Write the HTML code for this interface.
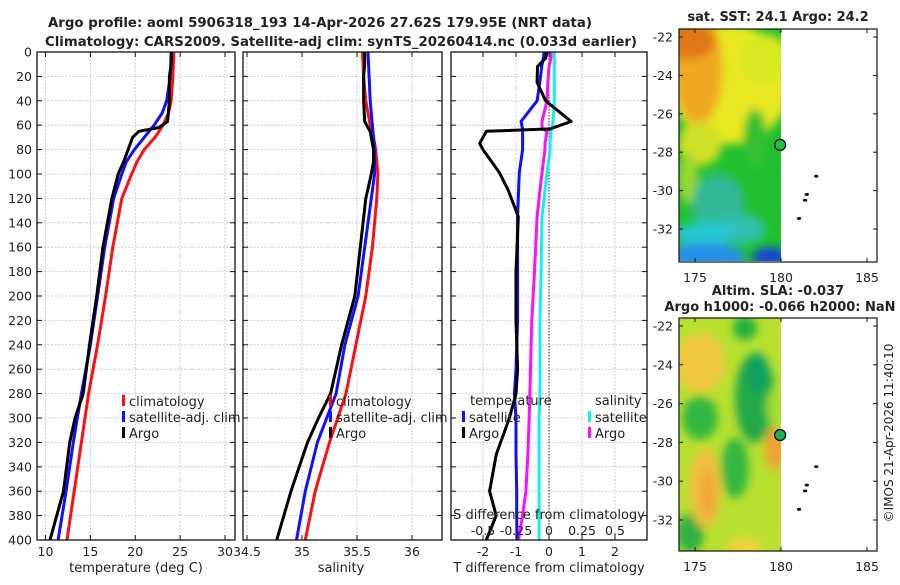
<!DOCTYPE html>
<html><head><meta charset="utf-8"><style>
html,body{margin:0;padding:0;background:#fff;}
svg text{font-family:"DejaVu Sans","Liberation Sans",sans-serif;fill:#222;}
</style></head><body>
<svg id="fig" width="900" height="580" viewBox="0 0 900 580" xmlns="http://www.w3.org/2000/svg">
<defs>
<filter id="blur6" x="-20%" y="-20%" width="140%" height="140%"><feGaussianBlur stdDeviation="4.5"/></filter>
<clipPath id="clipTop"><rect x="679" y="29" width="102" height="232"/></clipPath>
<clipPath id="clipBot"><rect x="679" y="318" width="102" height="233"/></clipPath>
</defs>
<text x="320" y="27" text-anchor="middle" font-size="13" font-weight="bold" textLength="544" lengthAdjust="spacingAndGlyphs">Argo profile: aoml 5906318_193 14-Apr-2026 27.62S 179.95E (NRT data)</text>
<text x="341" y="46" text-anchor="middle" font-size="13" font-weight="bold" textLength="592" lengthAdjust="spacingAndGlyphs">Climatology: CARS2009. Satellite-adj clim: synTS_20260414.nc (0.033d earlier)</text>
<g id="panels"></g>
<g id="maps"></g>
<text transform="translate(893,433) rotate(-90)" text-anchor="middle" font-size="12">©IMOS 21-Apr-2026 11:40:10</text>
</svg>
<script>
// ---- data (depth in m) ----
var depthTicks = [0,20,40,60,80,100,120,140,160,180,200,220,240,260,280,300,320,340,360,380,400];
var tempTicks = [10,15,20,25,30];
var salTicks = [34.5,35,35.5,36];
var tdiffTicks = [-2,-1,0,1,2];
var sdiffTicks = [-0.5,-0.25,0,0.25,0.5];
var sdiffLabels = ["-0.5","-0.25","0","0.25","0.5"];

var climDepth = [0,20,40,50,60,70,80,90,100,120,160,200,240,280,320,360,400];
var climTemp  = [24.3,24.2,24.0,23.7,23.1,22.2,21.0,20.2,19.6,18.5,17.5,16.7,15.8,14.8,14.0,13.2,12.4];
var satTemp   = [24.0,23.9,23.5,23.0,22.1,21.0,19.9,19.0,18.5,17.6,16.6,15.8,15.0,14.0,13.1,12.3,11.4];
var argoDepth = [0,10,20,40,57,62,65,70,80,90,100,120,160,200,240,280,300,320,360,400];
var argoTemp  = [24.0,24.0,23.8,23.8,23.6,22.6,20.4,19.7,19.2,18.7,18.1,17.4,16.4,15.7,14.9,14.2,13.3,12.7,12.0,10.5];

var climSal = [35.55,35.56,35.58,35.6,35.62,35.65,35.67,35.68,35.69,35.68,35.64,35.58,35.49,35.40,35.25,35.12,35.03];
var satSal  = [35.6,35.61,35.62,35.63,35.64,35.65,35.66,35.66,35.66,35.63,35.57,35.51,35.39,35.31,35.14,35.03,34.95];
var argoSal = [35.57,35.57,35.56,35.56,35.57,35.6,35.62,35.63,35.65,35.65,35.63,35.58,35.53,35.48,35.36,35.26,35.15,35.05,34.9,34.77];

var dDepth = [0,5,12,25,40,57,63,65,75,80,99,113,135,180,220,260,280,300,330,360,380,400];
var argoTdiff = [-0.06,-0.1,-0.35,-0.36,-0.1,0.67,0.03,-1.9,-2.1,-2.0,-1.5,-1.24,-0.93,-1.0,-1.0,-0.95,-1.0,-1.2,-1.6,-1.8,-1.6,-1.9];
var satTdiff  = [-0.15,-0.17,-0.22,-0.28,-0.36,-0.85,-0.8,-0.8,-0.8,-0.8,-0.9,-0.92,-0.95,-0.95,-0.95,-1.0,-1.05,-1.0,-1.0,-0.98,-0.98,-0.97];
var satSdiff  = [0.04,0.04,0.04,0.04,0.04,0.03,0.023,0.015,0.008,0.008,-0.015,-0.03,-0.053,-0.06,-0.068,-0.068,-0.068,-0.075,-0.075,-0.075,-0.075,-0.075];
var argoSdiff = [0.015,0.015,0.0,-0.008,-0.015,-0.053,-0.053,-0.015,-0.03,-0.03,-0.053,-0.068,-0.09,-0.11,-0.13,-0.14,-0.145,-0.15,-0.16,-0.175,-0.2,-0.23];

var NS="http://www.w3.org/2000/svg";
function el(tag, attrs, parent){var e=document.createElementNS(NS,tag);for(var k in attrs)e.setAttribute(k,attrs[k]);parent.appendChild(e);return e;}
var top0=52, bot0=540;
function yD(d){return top0 + d*(bot0-top0)/400;}
function lin(v0,v1,p0,p1){return function(v){return p0+(v-v0)*(p1-p0)/(v1-v0);};}
var xT = lin(10,30,45.5,225);
var xS = lin(34.5,36,247,412);
var xTd = lin(0,1,549,582);
var xSd = lin(0,0.25,549,582);
var panelsG=document.getElementById('panels');

function panel(name){
  var g=el('g',{},panelsG);
  
  
  return g;
}
function hgrid(g,x0,x1){
  depthTicks.forEach(function(d){
    var l=el('line',{x1:x0,x2:x1,y1:yD(d),y2:yD(d),stroke:'#b8c4e0','stroke-width':0.8,'stroke-dasharray':'2,1.5'},g);
    
    
  });
}
function vgrid(g,ticks,sx,color){
  ticks.forEach(function(t){
    var l=el('line',{x1:sx(t),x2:sx(t),y1:top0,y2:bot0,stroke:color,'stroke-width':0.8,'stroke-dasharray':'2,1.5'},g);
    
    
  });
}
function frame(g,x0,x1,ticksX,sx){
  var r=el('rect',{x:x0,y:top0,width:x1-x0,height:bot0-top0,fill:'none',stroke:'#111','stroke-width':1.3},g);
  
  
  depthTicks.forEach(function(d){
    el('line',{x1:x0,x2:x0+5,y1:yD(d),y2:yD(d),stroke:'#111'},g);
    el('line',{x1:x1-5,x2:x1,y1:yD(d),y2:yD(d),stroke:'#111'},g);
  });
  ticksX.forEach(function(t){
    el('line',{x1:sx(t),x2:sx(t),y1:bot0,y2:bot0-5,stroke:'#111'},g);
    el('line',{x1:sx(t),x2:sx(t),y1:top0,y2:top0+5,stroke:'#111'},g);
  });
}
function xlabels(g,ticks,sx,labels,y){
  ticks.forEach(function(t,i){
    var tx=el('text',{x:sx(t),y:y,'text-anchor':'middle','font-size':12.5},g);
    
    
    tx.textContent=labels?labels[i]:String(t);
  });
}
function line(g,xs,ds,sx,color,name,w){
  var pts=xs.map(function(v,i){return sx(v).toFixed(1)+','+yD(ds[i]).toFixed(1);}).join(' ');
  var p=el('polyline',{points:pts,fill:'none',stroke:color,'stroke-width':w||3,'stroke-linejoin':'round'},g);
  
  
}
function legendEntry(g,x,y,color,label){
  var gg=el('g',{},g);
  
  
  el('rect',{x:x,y:y-6,width:3,height:11,fill:color},gg);
  var t=el('text',{x:x+7,y:y+5,'font-size':13},gg);
  t.textContent=label;
}

// Panel 1: temperature
var p1=panel('temperature-panel');
hgrid(p1,37,235); vgrid(p1,tempTicks,xT,'#b8c4e0');
line(p1,climTemp,climDepth,xT,'#ff1010','climatology-temp-line');
line(p1,satTemp,climDepth,xT,'#1010ff','satellite-temp-line');
line(p1,argoTemp,argoDepth,xT,'#000','argo-temp-line');
frame(p1,37,235,tempTicks,xT);
depthTicks.forEach(function(d){
  var t=el('text',{x:32,y:yD(d)+4.5,'text-anchor':'end','font-size':12.5},p1);
  
  
  t.textContent=d;
});
xlabels(p1,tempTicks,xT,null,556);
var xl1=el('text',{x:136,y:572,'text-anchor':'middle','font-size':13},p1);


xl1.textContent='temperature (deg C)';
legendEntry(p1,122,401,'#ff1010','climatology');
legendEntry(p1,122,417,'#1010ff','satellite-adj. clim');
legendEntry(p1,122,433,'#000','Argo');

// Panel 2: salinity
var p2=panel('salinity-panel');
hgrid(p2,243,442); vgrid(p2,salTicks,xS,'#b8c4e0');
line(p2,climSal,climDepth,xS,'#ff1010','climatology-salinity-line');
line(p2,satSal,climDepth,xS,'#1010ff','satellite-salinity-line');
line(p2,argoSal,argoDepth,xS,'#000','argo-salinity-line');
frame(p2,243,442,salTicks,xS);
xlabels(p2,salTicks,xS,null,556);
var xl2=el('text',{x:341,y:572,'text-anchor':'middle','font-size':13},p2);


xl2.textContent='salinity';
legendEntry(p2,329,401,'#ff1010','climatology');
legendEntry(p2,329,417,'#1010ff','satellite-adj. clim');
legendEntry(p2,329,433,'#000','Argo');

// Panel 3: differences
var p3=panel('difference-panel');
hgrid(p3,451,647); vgrid(p3,tdiffTicks,xTd,'#c8bcd8');
var zl=el('line',{x1:549,x2:549,y1:top0,y2:bot0,stroke:'#333','stroke-width':1,'stroke-dasharray':'1.5,1.5'},p3);


line(p3,satSdiff,dDepth,xSd,'#10f0f0','satellite-salinity-diff-line');
line(p3,argoSdiff,dDepth,xSd,'#ff10ff','argo-salinity-diff-line');
line(p3,satTdiff,dDepth,xTd,'#1010ff','satellite-temp-diff-line');
line(p3,argoTdiff,dDepth,xTd,'#000','argo-temp-diff-line');
frame(p3,451,647,tdiffTicks,xTd);
xlabels(p3,tdiffTicks,xTd,null,556);
var xl3=el('text',{x:549,y:572,'text-anchor':'middle','font-size':13},p3);


xl3.textContent='T difference from climatology';
var sl=el('text',{x:549,y:519,'text-anchor':'middle','font-size':13},p3);


sl.textContent='S difference from climatology';
xlabels(p3,sdiffTicks,xSd,sdiffLabels,535);
var lt=el('text',{x:470,y:405,'font-size':13},p3); lt.textContent='temperature';


var ls=el('text',{x:595,y:405,'font-size':13},p3); ls.textContent='salinity';


legendEntry(p3,462,417,'#1010ff','satellite');
legendEntry(p3,462,433,'#000','Argo');
legendEntry(p3,588,417,'#10f0f0','satellite');
legendEntry(p3,588,433,'#ff10ff','Argo');

// ---- Maps ----
var mapsG=document.getElementById('maps');
var latTicks=[-22,-24,-26,-28,-30,-32];
var lonTicks=[175,180,185];
var islands=[[182.05,-29.25],[181.5,-30.2],[181.4,-30.5],[181.05,-31.45]];
var argoPos=[179.95,-27.62];
var xL=lin(175,180,695,781);
function drawMap(name,yTop,lat22y,lat32y,clip,blobs,base,title1,title2){
  var g=el('g',{},mapsG);
  
  
  var yL=lin(-22,-32,lat22y,lat32y);
  var cg=el('g',{'clip-path':'url(#'+clip+')'},g);
  el('rect',{x:679,y:yTop,width:102,height:233,fill:base},cg);
  var bg=el('g',{filter:'url(#blur6)'},cg);
  blobs.forEach(function(b){el('ellipse',{cx:b[0],cy:yTop+b[1],rx:b[2],ry:b[3],fill:b[4]},bg);});
  var fr=el('rect',{x:679,y:yTop,width:198,height:233,fill:'none',stroke:'#111','stroke-width':1.2},g);
  
  
  latTicks.forEach(function(la){
    var y=yL(la);
    el('line',{x1:679,x2:683,y1:y,y2:y,stroke:'#111'},g);
    el('line',{x1:873,x2:877,y1:y,y2:y,stroke:'#111'},g);
    var t=el('text',{x:673,y:y+4.5,'text-anchor':'end','font-size':12.5},g);
    
    
    t.textContent=la;
  });
  lonTicks.forEach(function(lo){
    var x=xL(lo);
    el('line',{x1:x,x2:x,y1:yTop+233,y2:yTop+229,stroke:'#111'},g);
    el('line',{x1:x,x2:x,y1:yTop,y2:yTop+4,stroke:'#111'},g);
    var t=el('text',{x:x,y:yTop+253,'text-anchor':'middle','font-size':12.5},g);
    
    
    t.textContent=lo;
  });
  islands.forEach(function(p){
    var e=el('ellipse',{cx:xL(p[0]),cy:yL(p[1]),rx:2.2,ry:1.4,fill:'#111'},g);
    
    
  });
  var c=el('circle',{cx:xL(argoPos[0]),cy:yL(argoPos[1]),r:5.5,fill:name==='sst-map'?'#20c040':'#20b050',stroke:'#000','stroke-width':1.2},g);
  
  
  var t1=el('text',{x:778,y:title2?yTop-23:yTop-8,'text-anchor':'middle','font-size':13,'font-weight':'bold'},g);
  
  
  t1.textContent=title1;
  if(title2){
    var t2=el('text',{x:780,y:yTop-7,'text-anchor':'middle','font-size':13,'font-weight':'bold'},g);
    
    
    t2.textContent=title2;
  }
}
drawMap('sst-map',29,37,229,'clipTop',[
  [730,55,60,60,'#e8e820'],
  [765,30,25,25,'#d8e820'],
  [698,40,25,55,'#f0a820'],
  [690,12,25,18,'#e07818'],
  [755,110,12,30,'#30c030'],
  [700,115,22,22,'#d0e028'],
  [688,150,10,25,'#98d830'],
  [718,175,26,30,'#30b898'],
  [740,200,25,15,'#30c0b0'],
  [705,205,30,12,'#28c8d0'],
  [705,228,40,14,'#2890e8'],
  [770,228,18,10,'#1848d0']
],'#20c030','sat. SST: 24.1 Argo: 24.2',null);
drawMap('sla-map',318,326,520,'clipBot',[
  [700,45,25,30,'#f0c840'],
  [745,10,12,12,'#20b040'],
  [755,80,20,45,'#20a848'],
  [758,55,10,20,'#10a060'],
  [700,100,18,22,'#30b840'],
  [735,150,14,30,'#30b840'],
  [690,215,14,20,'#30b040'],
  [705,170,16,40,'#f0c040'],
  [708,175,8,25,'#f0a838'],
  [775,130,10,22,'#f0a030'],
  [775,90,8,20,'#a0e030'],
  [745,230,18,10,'#f0d040']
],'#b8e030','Altim. SLA: -0.037','Argo h1000: -0.066 h2000: NaN');
</script>
</body></html>
